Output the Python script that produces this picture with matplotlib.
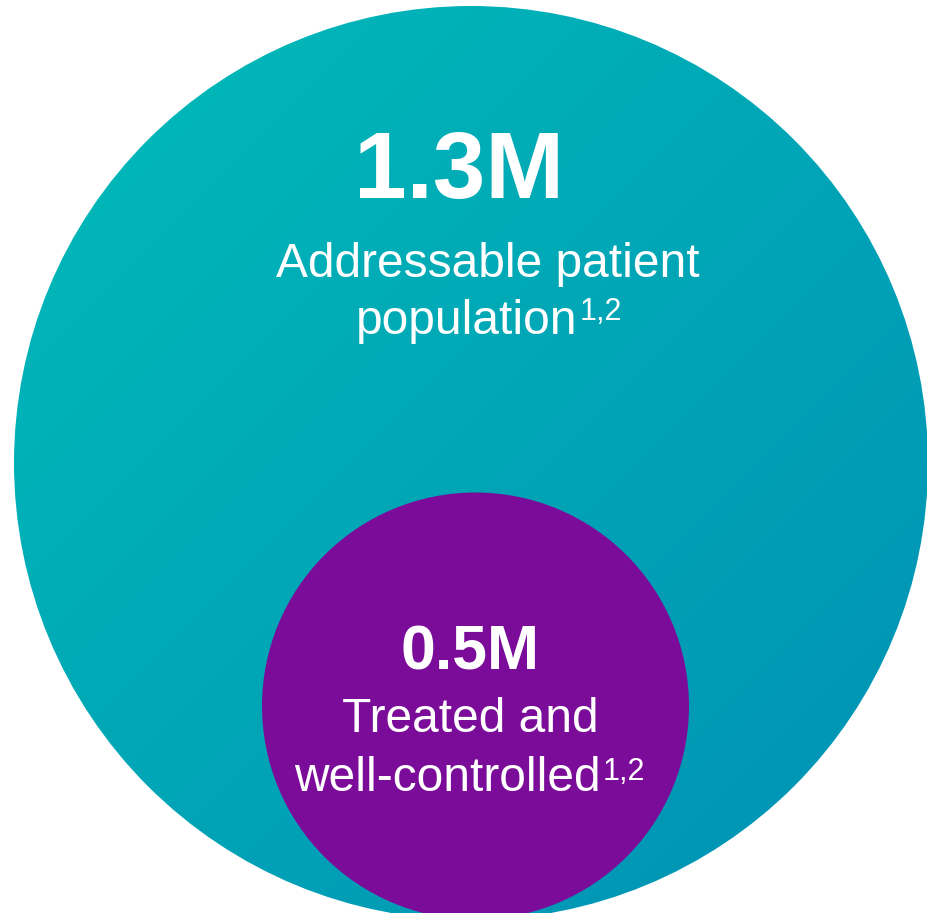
import numpy as np
import matplotlib
matplotlib.use("Agg")
import matplotlib.pyplot as plt
from matplotlib.patches import Circle
from matplotlib.colors import LinearSegmentedColormap

# Data
values = ["1.3M", "0.5M"]
line1 = ["Addressable patient", "Treated and"]
line2 = ["population", "well-controlled"]
footnotes = ["1,2", "1,2"]

W, H = 928, 913
fig = plt.figure(figsize=(W / 100, H / 100), dpi=100)
ax = fig.add_axes([0, 0, 1, 1])
ax.set_xlim(0, W)
ax.set_ylim(H, 0)
ax.set_aspect("auto")
ax.axis("off")

FONT = "Liberation Sans"

# Big circle with diagonal gradient
big_c = (471, 463)
big_r = 457
cmap = LinearSegmentedColormap.from_list("teal", ["#00BCB8", "#0090B5"])
xx, yy = np.meshgrid(np.linspace(0, 1, 400), np.linspace(0, 1, 400))
grad = (xx + yy) / 2
img = ax.imshow(grad, cmap=cmap, extent=[big_c[0] - big_r, big_c[0] + big_r,
                                         big_c[1] + big_r, big_c[1] - big_r],
                origin="upper", zorder=1, interpolation="bilinear")
clip = Circle(big_c, big_r, transform=ax.transData, facecolor="none", edgecolor="none")
ax.add_patch(clip)
img.set_clip_path(clip)

# Small circle
small = Circle((475.5, 706), 213.5, facecolor="#7B0C99", edgecolor="none", zorder=2)
ax.add_patch(small)

# Big numbers
ax.text(459, 198, values[0], fontsize=68, fontweight="bold", color="white",
        family=FONT, ha="center", va="baseline", zorder=5)
ax.text(470, 670, values[1], fontsize=45, fontweight="bold", color="white",
        family=FONT, ha="center", va="baseline", zorder=5)

# Descriptions
ax.text(488, 277, line1[0], fontsize=34.5, color="white", family=FONT,
        ha="center", va="baseline", zorder=5)
ax.text(470, 732, line1[1], fontsize=34.5, color="white", family=FONT,
        ha="center", va="baseline", zorder=5)

fig.canvas.draw()
renderer = fig.canvas.get_renderer()


def line_with_sup(cx, y, text, sup, fs, sfs, raise_px):
    t = ax.text(0, y, text, fontsize=fs, color="white", family=FONT,
                ha="left", va="baseline", zorder=5)
    s = ax.text(0, y - raise_px, sup, fontsize=sfs, color="white", family=FONT,
                ha="left", va="baseline", zorder=5)
    wt = t.get_window_extent(renderer).width
    ws = s.get_window_extent(renderer).width
    total = wt + ws + 2
    x0 = cx - total / 2
    t.set_x(x0)
    s.set_x(x0 + wt + 2)


line_with_sup(489, 334, line2[0], footnotes[0], 34.5, 22, 14)
line_with_sup(470, 791, line2[1], footnotes[1], 34.5, 22, 11)

fig.savefig("out.png", dpi=100, facecolor="white")
